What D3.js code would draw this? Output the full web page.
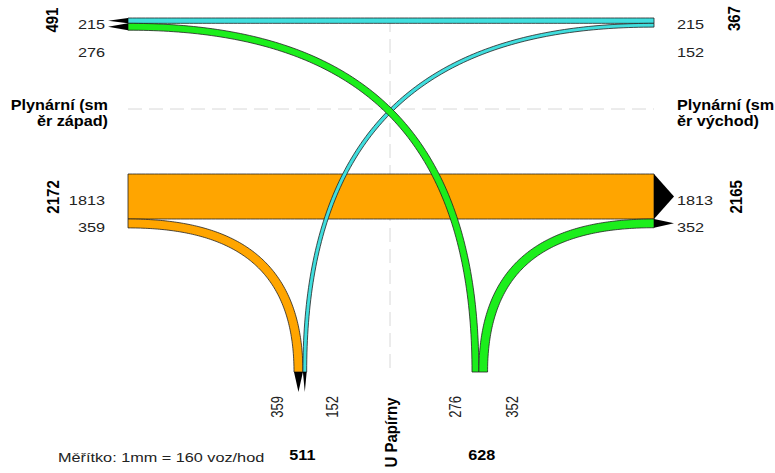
<!DOCTYPE html>
<html><head><meta charset="utf-8">
<script src="https://cdn.jsdelivr.net/npm/d3@7"></script>
<style>body{margin:0;background:#fff}svg{display:block}</style>
</head><body>
<script>
// ---------------- data ----------------
const arms = ["západ", "východ", "jih"];
const armNames = ["Plynární (směr západ)", "Plynární (směr východ)", "U Papírny"];
const flowFrom = ["západ", "západ", "východ", "východ", "jih", "jih"];
const flowTo   = ["východ", "jih", "západ", "jih", "západ", "východ"];
const flowValues = [1813, 359, 215, 152, 276, 352];
const scaleNote = "Měřítko: 1mm = 160 voz/hod";

// ---------------- styles / layout ----------------
const W = 775, H = 473;
const colorByOrigin = {"západ": "#ffa500", "východ": "#40dede", "jih": "#1cee1c"};
const L = {xL: 128, xR: 654, yTop: 18, yMid: 174, yB: 372, xSout: 294, xSin: 472,
           xAxis: 390, yAxis: 109, hA: 0.6, hB: 0.75, arrow: 20};
const REG = {size: 13, sx: 1.25, fill: "#222"};
const BOLD = {size: 15, sx: 1.08, fill: "#000"};

const svg = d3.select("body").append("svg").attr("width", W).attr("height", H);
const wScale = d3.scaleLinear().domain([0, d3.max(flowValues)]).range([0, 45]);

const idx = d3.range(flowValues.length);
function stack(list, start) {
  let pos = start; const m = {};
  list.forEach(i => { const w = wScale(flowValues[i]); m[i] = [pos, pos + w]; pos += w; });
  return m;
}
const westOut = idx.filter(i => flowTo[i] === arms[0]);
const westIn = idx.filter(i => flowFrom[i] === arms[0]);
const eastIn = idx.filter(i => flowFrom[i] === arms[1]);
const eastOut = idx.filter(i => flowTo[i] === arms[1]);
const southOut = idx.filter(i => flowTo[i] === arms[2]);
const southIn = idx.filter(i => flowFrom[i] === arms[2]);
const S = {
  wo: stack(westOut, L.yTop), wi: stack(westIn, L.yMid),
  ei: stack(eastIn, L.yTop), eo: stack(eastOut, L.yMid),
  so: stack(southOut, L.xSout), si: stack(southIn, L.xSin)
};

function endpoint(i, arm, role) {
  if (arm === arms[0]) {
    const r = role === "from" ? S.wi[i] : S.wo[i];
    return {x: L.xL, y: (r[0] + r[1]) / 2, horiz: true, dir: role === "from" ? [1, 0] : [-1, 0]};
  }
  if (arm === arms[1]) {
    const r = role === "from" ? S.ei[i] : S.eo[i];
    return {x: L.xR, y: (r[0] + r[1]) / 2, horiz: true, dir: role === "from" ? [-1, 0] : [1, 0]};
  }
  const r = role === "from" ? S.si[i] : S.so[i];
  return {x: (r[0] + r[1]) / 2, y: L.yB, horiz: false, dir: role === "from" ? [0, -1] : [0, 1]};
}

function geometry(i) {
  const a = endpoint(i, flowFrom[i], "from"), b = endpoint(i, flowTo[i], "to");
  const dx = Math.abs(b.x - a.x), dy = Math.abs(b.y - a.y);
  let h0, h3;
  if (a.horiz && b.horiz) { h0 = h3 = dx / 3; }
  else {
    h0 = a.horiz ? L.hA * dx : L.hB * dy;
    h3 = b.horiz ? L.hA * dx : L.hB * dy;
  }
  const P = [[a.x, a.y], [a.x + a.dir[0] * h0, a.y + a.dir[1] * h0],
             [b.x - b.dir[0] * h3, b.y - b.dir[1] * h3], [b.x, b.y]];
  return {a, b, P, w: wScale(flowValues[i])};
}
function bez(P, t) {
  const u = 1 - t;
  const p = [0, 1].map(k => u*u*u*P[0][k] + 3*u*u*t*P[1][k] + 3*u*t*t*P[2][k] + t*t*t*P[3][k]);
  const d = [0, 1].map(k => 3*u*u*(P[1][k]-P[0][k]) + 6*u*t*(P[2][k]-P[1][k]) + 3*t*t*(P[3][k]-P[2][k]));
  const len = Math.hypot(d[0], d[1]) || 1;
  return {p, n: [-d[1] / len, d[0] / len]};
}
function bandPoints(g) {
  const N = 120, left = [], right = [];
  for (let k = 0; k <= N; k++) {
    const {p, n} = bez(g.P, k / N);
    left.push([p[0] + n[0] * g.w / 2, p[1] + n[1] * g.w / 2]);
    right.push([p[0] - n[0] * g.w / 2, p[1] - n[1] * g.w / 2]);
  }
  return left.concat(right.reverse());
}
const line = d3.line();

// dashed road axes
svg.append("line").attr("x1", L.xL).attr("x2", L.xR).attr("y1", L.yAxis).attr("y2", L.yAxis)
  .attr("stroke", "#d8d8d8").attr("stroke-dasharray", "14,7");
svg.append("line").attr("x1", L.xAxis).attr("x2", L.xAxis).attr("y1", L.yTop).attr("y2", L.yB)
  .attr("stroke", "#d8d8d8").attr("stroke-dasharray", "14,7");

const geos = idx.map(geometry);
const drawOrder = [0, 1, 2, 3, 4, 5];
svg.append("g").selectAll("path").data(drawOrder).join("path")
  .attr("d", i => line(bandPoints(geos[i])) + "Z")
  .attr("fill", i => colorByOrigin[flowFrom[i]])
  .attr("stroke", "#222").attr("stroke-width", 0.8).attr("stroke-linejoin", "round");

// arrows at exits
svg.append("g").selectAll("path").data(idx).join("path")
  .attr("d", i => {
    const g = geos[i], b = g.b, n = [-b.dir[1], b.dir[0]];
    const tip = [b.x + b.dir[0] * L.arrow, b.y + b.dir[1] * L.arrow];
    return line([[b.x + n[0] * g.w / 2, b.y + n[1] * g.w / 2], tip,
                 [b.x - n[0] * g.w / 2, b.y - n[1] * g.w / 2]]) + "Z";
  })
  .attr("fill", "#000");

// text helper
function txt(s, x, y, o) {
  const st = o.bold ? BOLD : REG;
  svg.append("text")
    .attr("transform", `translate(${x},${y}) scale(${st.sx},1)` + (o.rot ? " rotate(-90)" : ""))
    .attr("text-anchor", o.anchor || "start")
    .attr("dy", o.dy || 0)
    .attr("font-family", "Liberation Sans, Arial, sans-serif")
    .attr("font-size", st.size).attr("font-weight", o.bold ? "bold" : "normal")
    .attr("fill", st.fill).text(s);
}

// value labels at the horizontal arms
function sideLabels(list, stk, x, anchor) {
  let prev = -1e9;
  list.forEach(i => {
    const c = (stk[i][0] + stk[i][1]) / 2 + 3.7;
    const y = Math.max(c, prev + 27.5); prev = y;
    txt(flowValues[i], x, y, {anchor, dy: "0.36em"});
  });
}
sideLabels(westOut, S.wo, 105, "end");
sideLabels(westIn, S.wi, 105, "end");
sideLabels(eastIn, S.ei, 677, "start");
sideLabels(eastOut, S.eo, 677, "start");

// totals at horizontal arms
function total(list, stk, x) {
  const lo = d3.min(list, i => stk[i][0]), hi = d3.max(list, i => stk[i][1]);
  txt(d3.sum(list, i => flowValues[i]), x, (lo + hi) / 2 - 4, {bold: true, rot: true, anchor: "middle", dy: "0.36em"});
}
total(westOut, S.wo, 52.5);
total(westIn, S.wi, 53);
total(eastIn, S.ei, 734);
total(eastOut, S.eo, 736);

// south arm labels
function southLabels(list, stk) {
  const lo = d3.min(list, i => stk[i][0]), hi = d3.max(list, i => stk[i][1]);
  list.forEach((i, k) => {
    const x = k === 0 ? lo - 17 : hi + 25;
    txt(flowValues[i], x, 396, {rot: true, anchor: "end", dy: "0.36em"});
  });
  txt(d3.sum(list, i => flowValues[i]), (lo + hi) / 2 + 2, 459.5, {bold: true, anchor: "middle"});
}
southLabels(southOut, S.so);
southLabels(southIn, S.si);

// arm names
function wrap(s) { return [s.slice(0, 12), s.slice(12)]; }
wrap(armNames[0]).forEach((s, k) => txt(s, 108, 110 + k * 15.5, {bold: true, anchor: "end"}));
wrap(armNames[1]).forEach((s, k) => txt(s, 677, 110 + k * 15.5, {bold: true, anchor: "start"}));
txt(armNames[2], L.xAxis + 1, 432.5, {bold: true, rot: true, anchor: "middle", dy: "0.36em"});

txt(scaleNote, 58, 462, {});
</script>
</body></html>
